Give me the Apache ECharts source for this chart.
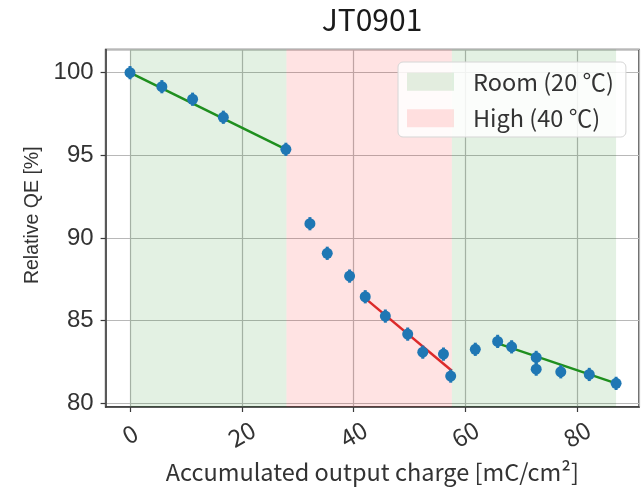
<!DOCTYPE html>
<html><head><meta charset="utf-8">
<script src="https://cdn.jsdelivr.net/npm/echarts@6/dist/echarts.min.js"></script>
<style>html,body{margin:0;padding:0;background:#fff}#c{width:642px;height:487px}</style>
</head><body><div id="c"></div>
<script>
const chartTitle = 'JT0901';
const xName = 'Accumulated output charge [mC/cm²]';
const yName = 'Relative QE [%]';
const roomName = 'Room (20 ℃)';
const highName = 'High (40 ℃)';

const chargeX = [0, 5.7, 11.2, 16.7, 27.9, 32.2, 35.3, 39.3, 42.1, 45.7, 49.7, 52.4, 56.1, 57.4, 61.8, 65.8, 68.3, 72.7, 72.7, 77.1, 82.2, 87.0];
const qeY     = [100, 99.15, 98.39, 97.3, 95.36, 90.86, 89.07, 87.69, 86.44, 85.27, 84.18, 83.09, 82.97, 81.64, 83.26, 83.74, 83.41, 82.77, 82.06, 81.9, 81.74, 81.2];
const qeErr   = [0.4, 0.4, 0.4, 0.4, 0.4, 0.4, 0.4, 0.4, 0.4, 0.4, 0.4, 0.4, 0.4, 0.4, 0.4, 0.4, 0.4, 0.4, 0.4, 0.4, 0.4, 0.4];

const roomSpans = [[0, 28.0], [57.6, 87.0]];
const highSpans = [[28.0, 57.6]];

const roomFit1 = [[0, 100.0], [27.9, 95.36]];
const highFit  = [[42.1, 86.34], [57.6, 81.96]];
const roomFit2 = [[65.8, 83.62], [87.0, 81.2]];

const xMin = -4.37, xMax = 91.1, xStep = 20;
const yMin = 79.77, yMax = 101.4, yStep = 5;

const JFONT = '"Noto Sans CJK JP", "Noto Sans", sans-serif';
const AFONT = '"Liberation Sans", Arial, sans-serif';

function spanRender(params, api) {
  const cs = params.coordSys;
  const p0 = api.coord([api.value(0), yMin]);
  const p1 = api.coord([api.value(1), yMin]);
  return { type: 'rect', shape: { x: p0[0], y: cs.y, width: p1[0] - p0[0], height: cs.height },
           style: { fill: api.visual('color') } };
}
function errRender(params, api) {
  const a = api.coord([api.value(0), api.value(1)]);
  const b = api.coord([api.value(0), api.value(2)]);
  return { type: 'line', shape: { x1: a[0], y1: a[1], x2: b[0], y2: b[1] },
           style: { stroke: '#1f77b4', lineWidth: 3 } };
}

const chart = echarts.init(document.getElementById('c'));
chart.setOption({
  animation: false,
  backgroundColor: '#fff',
  title: { text: chartTitle, left: 367, top: 0, textAlign: 'center',
           textStyle: { fontFamily: JFONT, fontSize: 30, fontWeight: 'normal', color: '#1a1a1a' } },
  legend: {
    orient: 'vertical', left: 398, top: 62,
    data: [roomName, highName],
    icon: 'rect', itemWidth: 47, itemHeight: 18, itemGap: 13,
    backgroundColor: 'rgba(255,255,255,0.85)', borderColor: '#d6d6d6', borderWidth: 1, borderRadius: 5,
    padding: [8, 12, 7, 9],
    textStyle: { fontFamily: JFONT, fontSize: 23.5, color: '#333', padding: [0, 0, 0, 14] }
  },
  grid: { left: 105.6, top: 49.5, width: 533.4, height: 357.5, show: true,
          outerBoundsMode: 'none', containLabel: false,
          borderColor: '#3a3a3a', borderWidth: 1.5, backgroundColor: 'transparent' },
  xAxis: {
    type: 'value', min: xMin, max: xMax, minInterval: xStep, maxInterval: xStep,
    name: xName, nameLocation: 'middle', nameGap: 53,
    nameTextStyle: { fontFamily: JFONT, fontSize: 23.5, color: '#333' },
    axisLine: { show: true, onZero: false, lineStyle: { color: '#3a3a3a', width: 1.5 } },
    axisTick: { show: true, length: 5, lineStyle: { color: '#3a3a3a', width: 1.2 } },
    axisLabel: { rotate: 30, align: 'center', verticalAlign: 'middle', margin: 27,
                 showMinLabel: false, showMaxLabel: false,
                 fontFamily: JFONT, fontSize: 24, color: '#333' },
    splitLine: { show: true, lineStyle: { color: '#b8b8b8', width: 1.2 } }
  },
  yAxis: {
    type: 'value', min: yMin, max: yMax, minInterval: yStep, maxInterval: yStep,
    name: yName, nameLocation: 'middle', nameGap: 62, nameRotate: 90,
    nameTextStyle: { fontFamily: AFONT, fontSize: 19.5, color: '#333', padding: [0, 0, 0, 26] },
    axisLine: { show: true, onZero: false, lineStyle: { color: '#3a3a3a', width: 1.5 } },
    axisTick: { show: true, length: 5, lineStyle: { color: '#3a3a3a', width: 1.2 } },
    axisLabel: { margin: 12, showMinLabel: false, showMaxLabel: false,
                 fontFamily: AFONT, fontSize: 24, color: '#333' },
    splitLine: { show: true, lineStyle: { color: '#b8b8b8', width: 1.2 } }
  },
  series: [
    { name: roomName, type: 'custom', renderItem: spanRender, z: 1,
      itemStyle: { color: 'rgba(0,128,0,0.11)' }, encode: { x: [0, 1], y: 2 },
      data: roomSpans.map(s => [s[0], s[1], yMin]), silent: true },
    { name: highName, type: 'custom', renderItem: spanRender, z: 1,
      itemStyle: { color: 'rgba(255,0,0,0.11)' }, encode: { x: [0, 1], y: 2 },
      data: highSpans.map(s => [s[0], s[1], yMin]), silent: true },
    { type: 'line', data: roomFit1, showSymbol: false, symbol: 'none', z: 3,
      lineStyle: { color: '#1f8f1f', width: 2.5 } },
    { type: 'line', data: highFit, showSymbol: false, symbol: 'none', z: 3,
      lineStyle: { color: '#dc2a2a', width: 2.5 } },
    { type: 'line', data: roomFit2, showSymbol: false, symbol: 'none', z: 3,
      lineStyle: { color: '#1f8f1f', width: 2.5 } },
    { type: 'custom', renderItem: errRender, z: 4, encode: { x: 0, y: [1, 2] },
      data: chargeX.map((x, i) => [x, qeY[i] - qeErr[i], qeY[i] + qeErr[i]]) },
    { type: 'scatter', symbol: 'circle', symbolSize: 11, z: 5,
      itemStyle: { color: '#1f77b4', opacity: 1 },
      data: chargeX.map((x, i) => [x, qeY[i]]) }
  ]
});
</script></body></html>
